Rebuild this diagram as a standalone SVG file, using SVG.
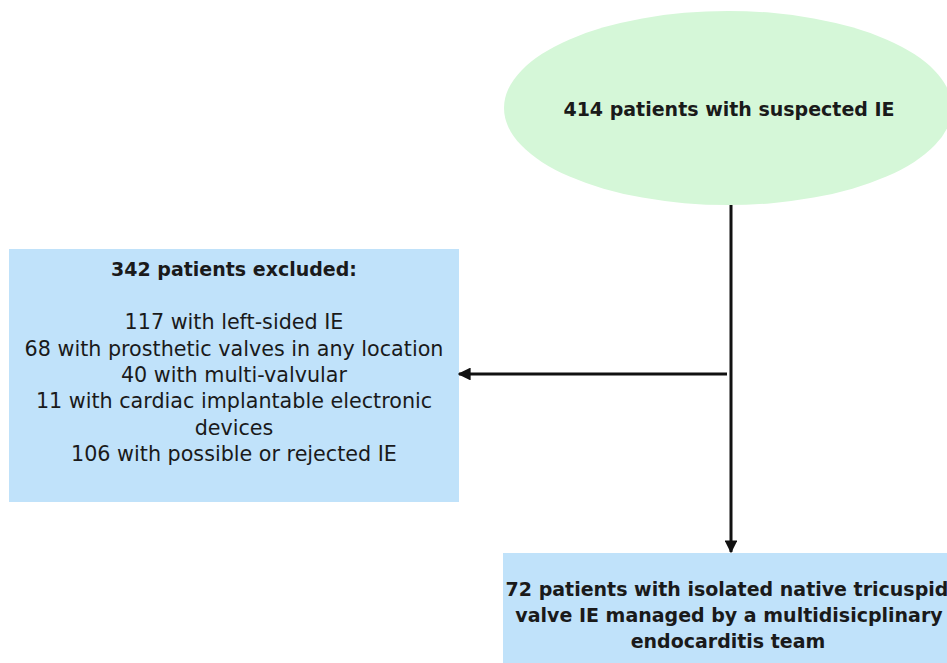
<svg xmlns="http://www.w3.org/2000/svg" width="947" height="663" viewBox="0 0 947 663">
<defs>
<style>
.t{font-family:"DejaVu Sans","Liberation Sans",Arial,sans-serif;fill:#1a1a1a;text-anchor:middle}
.b{font-weight:bold;font-size:19px}
.n{font-size:20.7px;font-weight:normal}
.c{stroke:#111;stroke-width:3;fill:none}
</style>
<marker id="ah" viewBox="0 0 10 10" refX="9" refY="5" markerWidth="4.3" markerHeight="4.3" orient="auto-start-reverse" markerUnits="strokeWidth">
<path d="M0,0 L10,5 L0,10 z" fill="#111"/>
</marker>
</defs>
<rect width="947" height="663" fill="#fff"/>
<g id="n1">
<ellipse cx="728" cy="108" rx="224" ry="97" fill="#d5f7d8"/>
<text class="t b" x="729" y="116">414 patients with suspected IE</text>
</g>
<g id="n2">
<rect x="9" y="249" width="450" height="253" fill="#c0e2fa"/>
<text class="t b" x="234" y="276">342 patients excluded:</text>
<text class="t n" x="234" y="329">117 with left-sided IE</text>
<text class="t n" x="234" y="356">68 with prosthetic valves in any location</text>
<text class="t n" x="234" y="382">40 with multi-valvular</text>
<text class="t n" x="234" y="408">11 with cardiac implantable electronic</text>
<text class="t n" x="234" y="435">devices</text>
<text class="t n" x="234" y="461">106 with possible or rejected IE</text>
</g>
<g id="n3">
<rect x="503" y="553" width="450" height="115" fill="#c0e2fa"/>
<text class="t b" x="727" y="596">72 patients with isolated native tricuspid</text>
<text class="t b" x="729" y="622">valve IE managed by a multidisicplinary</text>
<text class="t b" x="728" y="648">endocarditis team</text>
</g>
<g id="connectors">
<line class="c" x1="731" y1="205" x2="731" y2="552" marker-end="url(#ah)"/>
<line class="c" x1="727" y1="374" x2="459" y2="374" marker-end="url(#ah)"/>
</g>
</svg>
